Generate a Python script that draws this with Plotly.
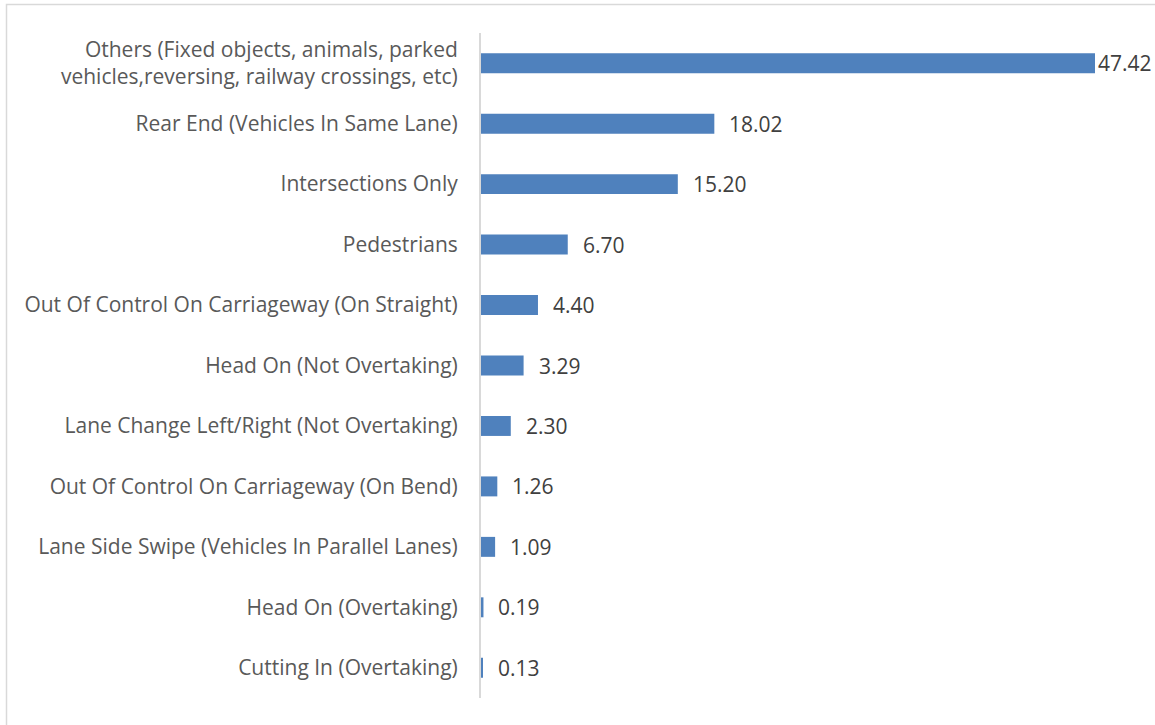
import plotly.graph_objects as go

categories = [
    "Cutting In (Overtaking)",
    "Head On (Overtaking)",
    "Lane Side Swipe (Vehicles In Parallel Lanes)",
    "Out Of Control On Carriageway (On Bend)",
    "Lane Change Left/Right (Not Overtaking)",
    "Head On (Not Overtaking)",
    "Out Of Control On Carriageway (On Straight)",
    "Pedestrians",
    "Intersections Only",
    "Rear End (Vehicles In Same Lane)",
    "Others (Fixed objects, animals, parked<br>vehicles,reversing, railway crossings, etc)",
]
values = [0.13, 0.19, 1.09, 1.26, 2.30, 3.29, 4.40, 6.70, 15.20, 18.02, 47.42]

W, H = 1155, 725
L, R, T, B = 481, 60, 33, 27
pw, ph = W - L - R, H - T - B
FS = 21

fig = go.Figure()
fig.add_trace(go.Bar(
    x=values, y=categories, orientation="h",
    marker=dict(color="#4F81BD", line=dict(width=0)),
    hoverinfo="x+y",
))

vmax = max(values)
annotations = []
for c, v in zip(categories, values):
    annotations.append(dict(
        x=v, y=c, xref="x", yref="y", text=f"{v:.2f}",
        showarrow=False, xanchor="left", yanchor="middle",
        xshift=1 if v == vmax else 13,
        font=dict(family="Open Sans", size=FS, color="#404040"),
    ))

fig.update_layout(
    width=W, height=H,
    margin=dict(l=L, r=R, t=T, b=B, autoexpand=False),
    paper_bgcolor="white", plot_bgcolor="white",
    bargap=0.67, showlegend=False,
    annotations=annotations,
    font=dict(family="Open Sans", size=FS, color="#595959"),
    shapes=[dict(
        type="rect", xref="paper", yref="paper",
        x0=(6.5 - L) / pw, x1=(W + 20 - L) / pw,
        y0=(H - B - (H + 20)) / ph, y1=(H - B - 4.5) / ph,
        line=dict(color="#D9D9D9", width=1.5), fillcolor="rgba(0,0,0,0)", layer="below",
    )],
)
fig.update_xaxes(range=[0, vmax], visible=False, fixedrange=True)
fig.update_yaxes(
    showline=True, linecolor="#D9D9D9", linewidth=2,
    ticks="", ticklabelstandoff=17, showgrid=False,
    tickfont=dict(family="Open Sans", size=FS, color="#595959"),
    fixedrange=True,
)
fig.write_html("out.html")
